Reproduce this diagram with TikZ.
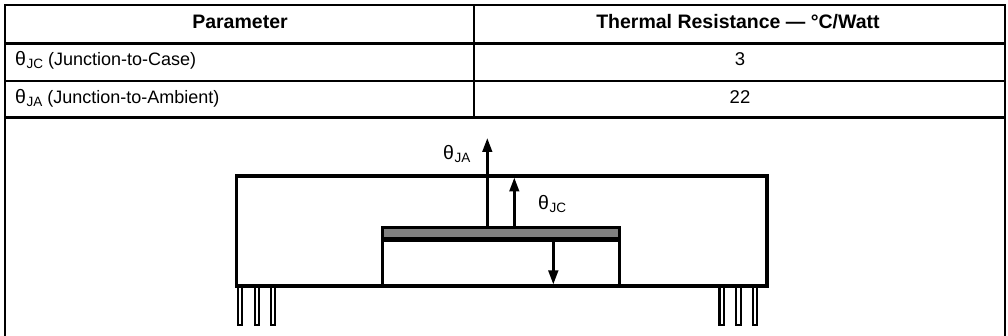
\documentclass[tikz,border=0pt]{standalone}
\usepackage{fontspec}
\setmainfont{Liberation Sans}
\usetikzlibrary{arrows.meta}
\newcommand{\thsub}[1]{{\fontsize{19.5}{22}\selectfont θ}\kern0.6pt\raisebox{-2.8pt}{\fontsize{13.5}{15}\selectfont #1}}
\begin{document}
\begin{tikzpicture}[x=1pt,y=-1pt,
  tbl/.style={line width=2.6pt},
  dia/.style={line width=3.1pt},
  pin/.style={line width=2.2pt, fill=white},
  arr/.style={line width=2.8pt, -{Triangle[length=14pt,width=9.5pt]}},
  hdr/.style={font=\fontsize{19.5}{22}\selectfont\bfseries, anchor=base, inner sep=0pt},
  body/.style={font=\fontsize{18}{21}\selectfont, anchor=base west, inner sep=0pt},
  val/.style={font=\fontsize{18.5}{21}\selectfont, anchor=base, inner sep=0pt},
]
\useasboundingbox (0,0) rectangle (1008,336);
% table
\draw[tbl] (5,345) -- (5,5) -- (1005,5) -- (1005,345);
\draw[tbl] (5,43.3) -- (1005,43.3);
\draw[tbl] (5,81) -- (1005,81);
\draw[tbl] (5,117.3) -- (1005,117.3);
\draw[tbl] (474,5) -- (474,117.3);
\node[hdr] (h1) at (240,29) {Parameter};
\node[hdr] (h2) at (738,29) {Thermal Resistance — °C/Watt};
\node[body] (r1) at (15,66) {\thsub{JC} (Junction-to-Case)};
\node[body] (r2) at (15,103.3) {\thsub{JA} (Junction-to-Ambient)};
\node[val] (v1) at (740,66) {3};
\node[val] (v2) at (740,103.3) {22};
% pins
\foreach \c in {240,257,273,721.7,738.3,755}
  \draw[pin] (\c-2.3,285) rectangle (\c+2.3,325);
% outer package
\draw[dia] (236.3,176) rectangle (767,286);
% chip carrier
\fill[black!50] (383.5,229.3) rectangle (618,236.7);
\draw[dia] (382.5,286) -- (382.5,227.7) -- (619.3,227.7) -- (619.3,286);
\draw[line width=5pt] (381,239.2) -- (620.8,239.2);
% arrows
\coordinate (ja0) at (487.3,226.5);
\coordinate (ja1) at (487.3,138);
\coordinate (jc0) at (514.3,226.5);
\coordinate (jc1) at (514.3,177.5);
\coordinate (dn0) at (553.3,241.5);
\coordinate (dn1) at (553.3,284.5);
\draw[arr] (ja0) -- (ja1);
\draw[arr] (jc0) -- (jc1);
\draw[arr] (dn0) -- (dn1);
\node[body] (lja) at (443,160) {\thsub{JA}};
\node[body] (ljc) at (538,210) {\thsub{JC}};
\end{tikzpicture}
\end{document}
